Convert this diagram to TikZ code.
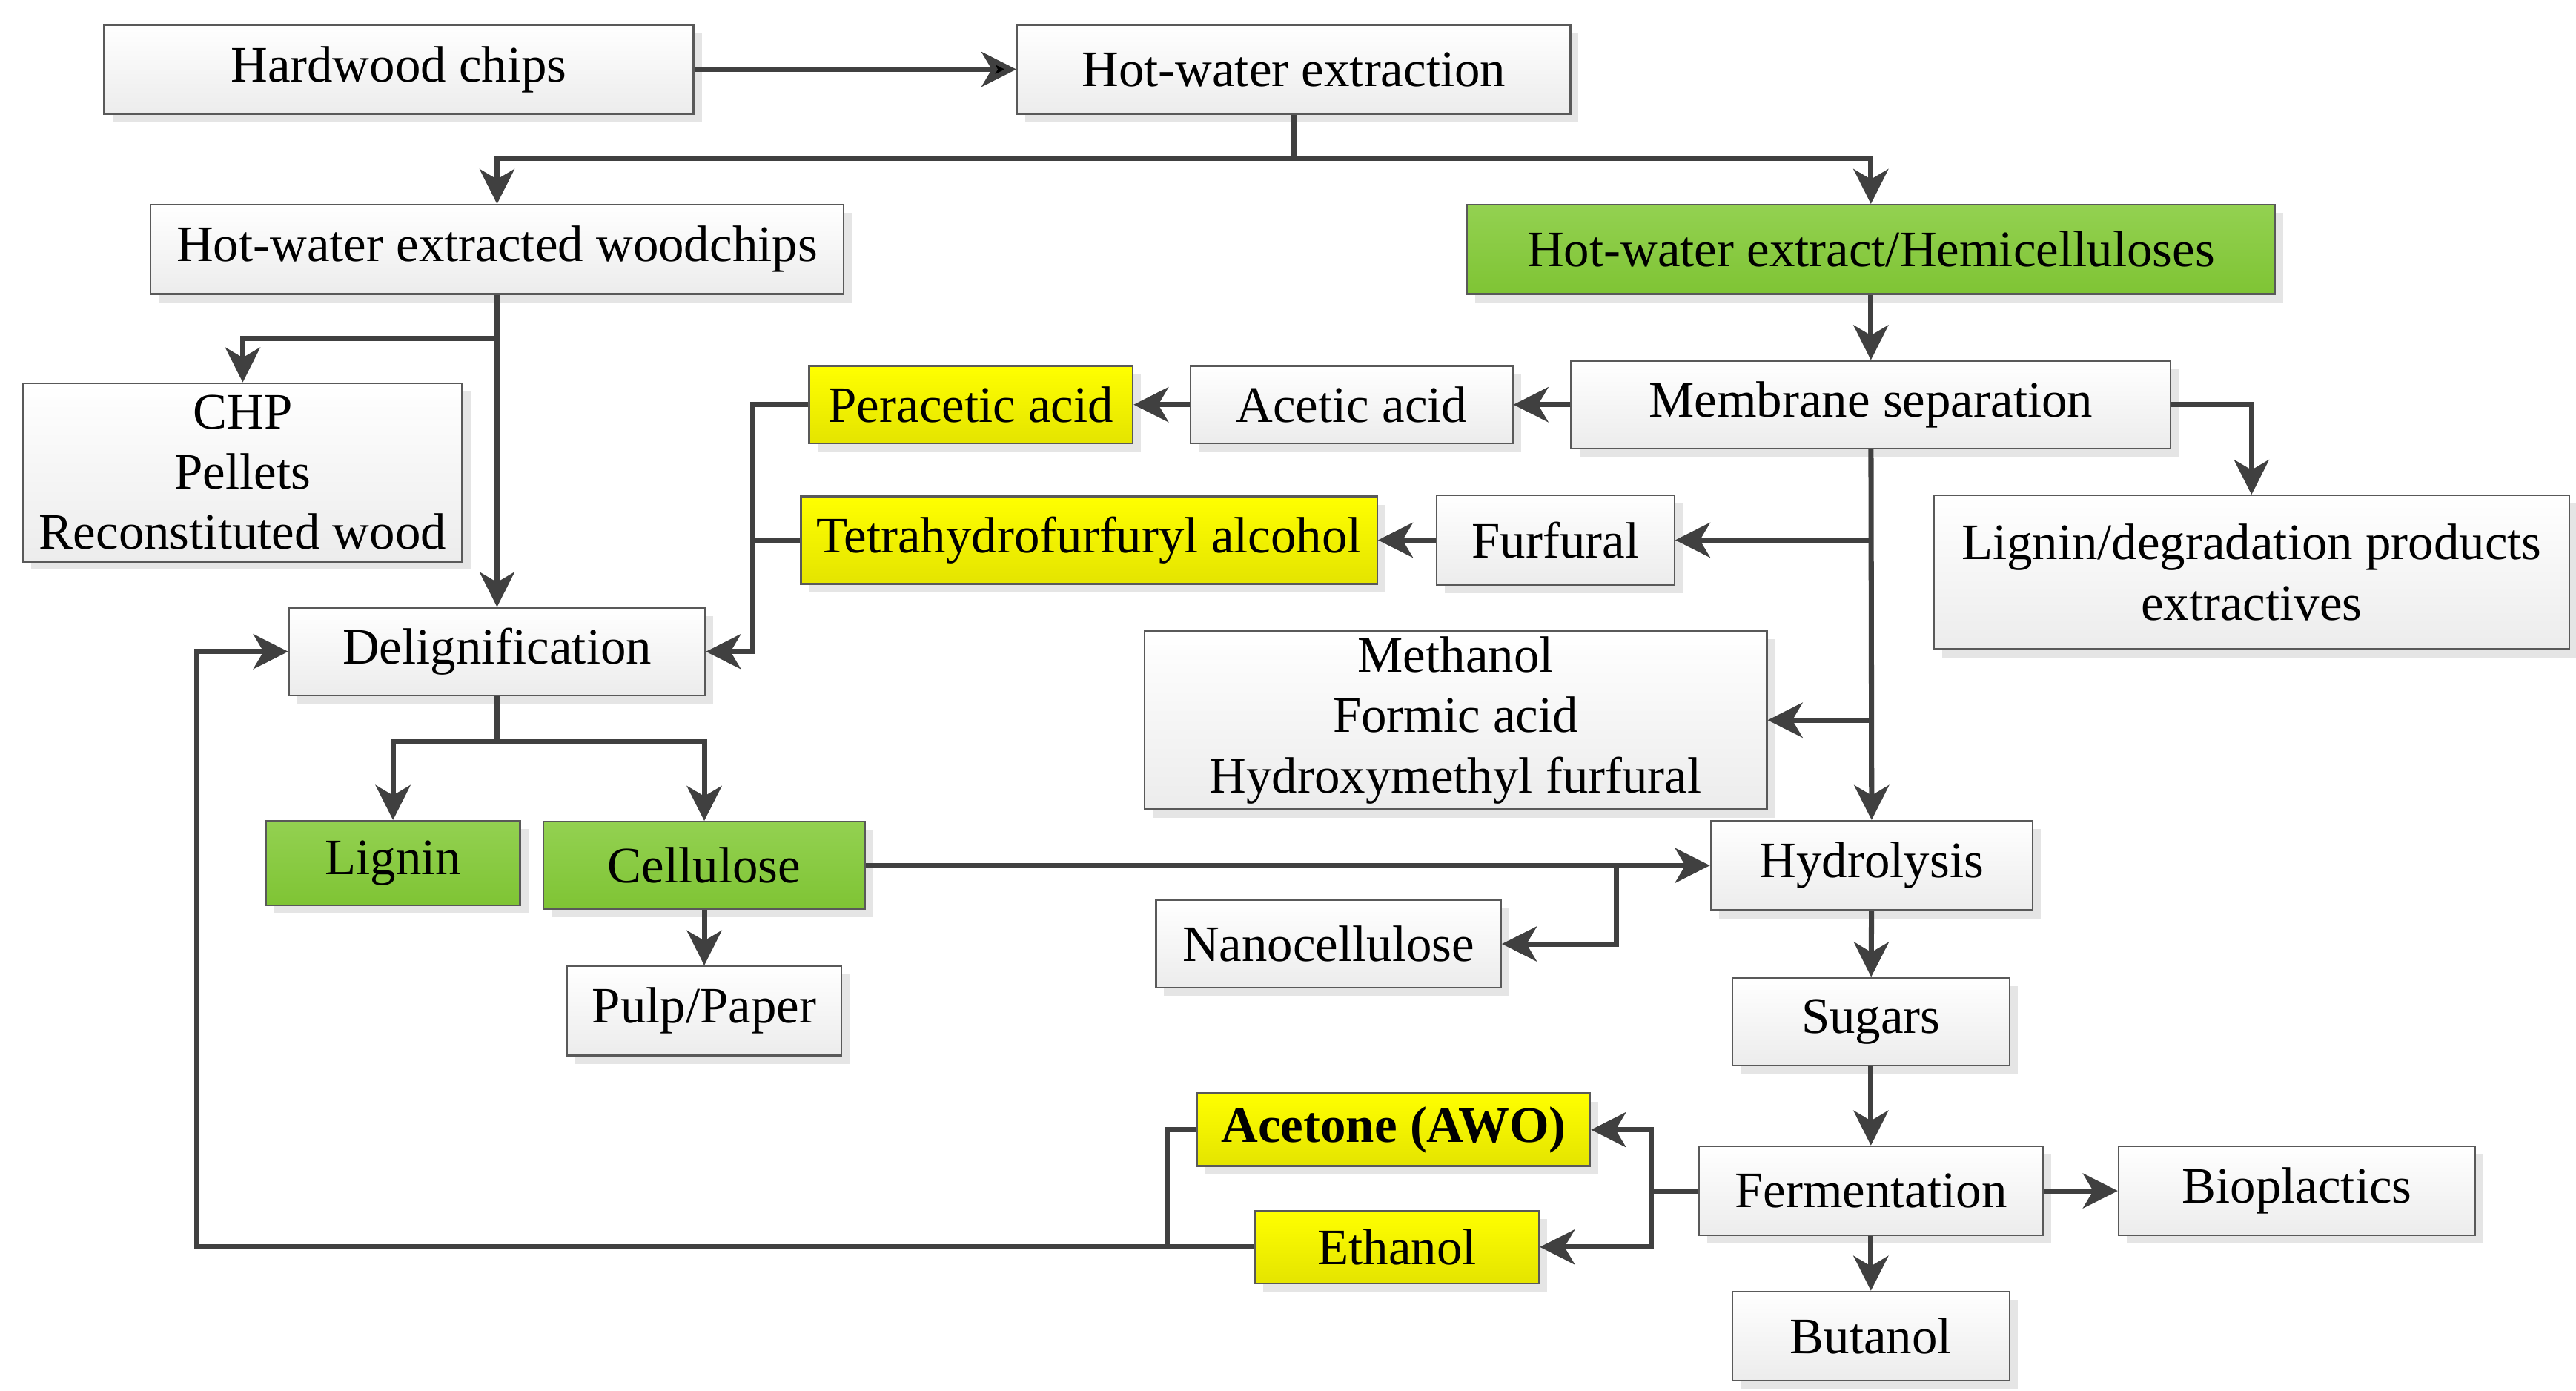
\documentclass[tikz,border=0pt]{standalone}
\usepackage{fontspec}
\setmainfont{Liberation Serif}
\usepackage{tikz}
\usetikzlibrary{arrows.meta,positioning,shadows}
\definecolor{lineC}{HTML}{404040}
\definecolor{edgeC}{HTML}{595959}
\definecolor{greyBot}{HTML}{ECECEC}
\definecolor{greenTop}{HTML}{93D151}
\definecolor{greenBot}{HTML}{7FC434}
\definecolor{yelTop}{HTML}{FFFF00}
\definecolor{yelBot}{HTML}{E4E400}
\tikzset{
  box/.style={draw=edgeC,line width=0.6pt,inner sep=0pt,align=center,
    top color=white,bottom color=greyBot,
    drop shadow={shadow xshift=0.1cm,shadow yshift=-0.1cm,fill=black!10,opacity=1}},
  gbox/.style={box,top color=greenTop,bottom color=greenBot},
  ybox/.style={box,top color=yelTop,bottom color=yelBot},
  link/.style={draw=lineC,line width=1.8pt},
  arr/.style={link,-{Stealth[length=12pt,width=12pt,inset=3.5pt]}}
}
\begin{document}
\begin{tikzpicture}[x=0.02cm,y=-0.02cm,font=\fontsize{17.6}{20.8}\selectfont]
\useasboundingbox (0,0) rectangle (1560,842);
% boxes
\node (hard) [box,minimum width=7.14cm,minimum height=1.08cm] at (241.5,42) {Hardwood chips};
\node (hwe) [box,minimum width=6.70cm,minimum height=1.08cm] at (783.5,42) {Hot-water extraction};
\node (hwc) [box,minimum width=8.40cm,minimum height=1.08cm] at (301,151) {Hot-water extracted woodchips};
\node (hemi) [gbox,minimum width=9.78cm,minimum height=1.08cm] at (1133,151) {Hot-water extract/Hemicelluloses};
\node (chp) [box,minimum width=5.32cm,minimum height=2.16cm] at (147,286) {CHP\\Pellets\\Reconstituted wood};
\node (perac) [ybox,minimum width=3.92cm,minimum height=0.94cm] at (588,245) {Peracetic acid};
\node (acetic) [box,minimum width=3.90cm,minimum height=0.94cm] at (818.5,245) {Acetic acid};
\node (membr) [box,minimum width=7.26cm,minimum height=1.06cm] at (1133,245) {Membrane separation};
\node (ligdeg) [box,minimum width=7.70cm,minimum height=1.86cm] at (1363.5,346.5) {Lignin/degradation products\\extractives};
\node (thfa) [ybox,minimum width=6.98cm,minimum height=1.06cm] at (659.5,327) {Tetrahydrofurfuryl alcohol};
\node (furf) [box,minimum width=2.88cm,minimum height=1.08cm] at (942,327) {Furfural};
\node (delig) [box,minimum width=5.04cm,minimum height=1.06cm] at (301,394.5) {Delignification};
\node (meth) [box,minimum width=7.54cm,minimum height=2.16cm] at (881.5,436) {Methanol\\Formic acid\\Hydroxymethyl furfural};
\node (lignin) [gbox,minimum width=3.08cm,minimum height=1.02cm] at (238,522.5) {Lignin};
\node (cell) [gbox,minimum width=3.90cm,minimum height=1.06cm] at (426.5,524) {Cellulose};
\node (hydro) [box,minimum width=3.90cm,minimum height=1.08cm] at (1133.5,524) {Hydrolysis};
\node (nano) [box,minimum width=4.18cm,minimum height=1.06cm] at (804.5,571.5) {Nanocellulose};
\node (pulp) [box,minimum width=3.32cm,minimum height=1.08cm] at (426.5,612) {Pulp/Paper};
\node (sugars) [box,minimum width=3.36cm,minimum height=1.06cm] at (1133,618.5) {Sugars};
\node (acetone) [ybox,minimum width=4.76cm,minimum height=0.88cm] at (844,684) {\bfseries Acetone (AWO)};
\node (ferm) [box,minimum width=4.16cm,minimum height=1.08cm] at (1133,721) {Fermentation};
\node (biopl) [box,minimum width=4.32cm,minimum height=1.08cm] at (1391,721) {Bioplactics};
\node (ethanol) [ybox,minimum width=3.44cm,minimum height=0.88cm] at (846,755) {Ethanol};
\node (butanol) [box,minimum width=3.36cm,minimum height=1.08cm] at (1133,809) {Butanol};
% junctions
\coordinate (s1) at (783.5,96);
\coordinate (s2) at (301,205);
\coordinate (s3) at (1133,327);
\coordinate (s4) at (1133,436);
\coordinate (s5) at (301,449);
\coordinate (s6) at (979,524);
\coordinate (j1) at (456,245);
\coordinate (j2) at (1000,721);
\coordinate (j3) at (119,755);
\coordinate (j4) at (707,755);
% links
\path[arr] (hard) edge (hwe);
\draw[link] (hwe) -- (s1);
\draw[arr] (s1) -| (hwc);
\draw[arr] (s1) -| (hemi);
\draw[arr] (hwc) -- (delig);
\draw[arr] (s2) -| (chp);
\draw[arr] (hemi) -- (membr);
\draw[arr] (membr) -- (acetic);
\draw[arr] (acetic) -- (perac);
\draw[arr] (membr.east) -| (ligdeg);
\draw[arr] (membr) -- (hydro);
\draw[arr] (s3) -- (furf);
\draw[arr] (s4) -- (meth);
\draw[arr] (furf) -- (thfa);
\draw[arr] (perac) -- (j1) |- (delig);
\draw[link] (thfa) -- (thfa -| j1);
\draw[link] (delig) -- (s5);
\draw[arr] (s5) -| (lignin);
\draw[arr] (s5) -| (cell);
\draw[arr] (cell) -- (cell -| hydro.west);
\draw[arr] (s6) |- (nano);
\draw[arr] (cell) -- (pulp);
\draw[arr] (hydro) -- (sugars);
\draw[arr] (sugars) -- (ferm);
\draw[arr] (ferm) -- (biopl);
\draw[arr] (ferm) -- (butanol);
\draw[link] (ferm) -- (j2);
\draw[arr] (j2) |- (acetone);
\draw[arr] (j2) |- (ethanol);
\draw[arr] (ethanol) -- (j3) |- (delig);
\draw[link] (acetone) -| (j4);
\end{tikzpicture}
\end{document}
